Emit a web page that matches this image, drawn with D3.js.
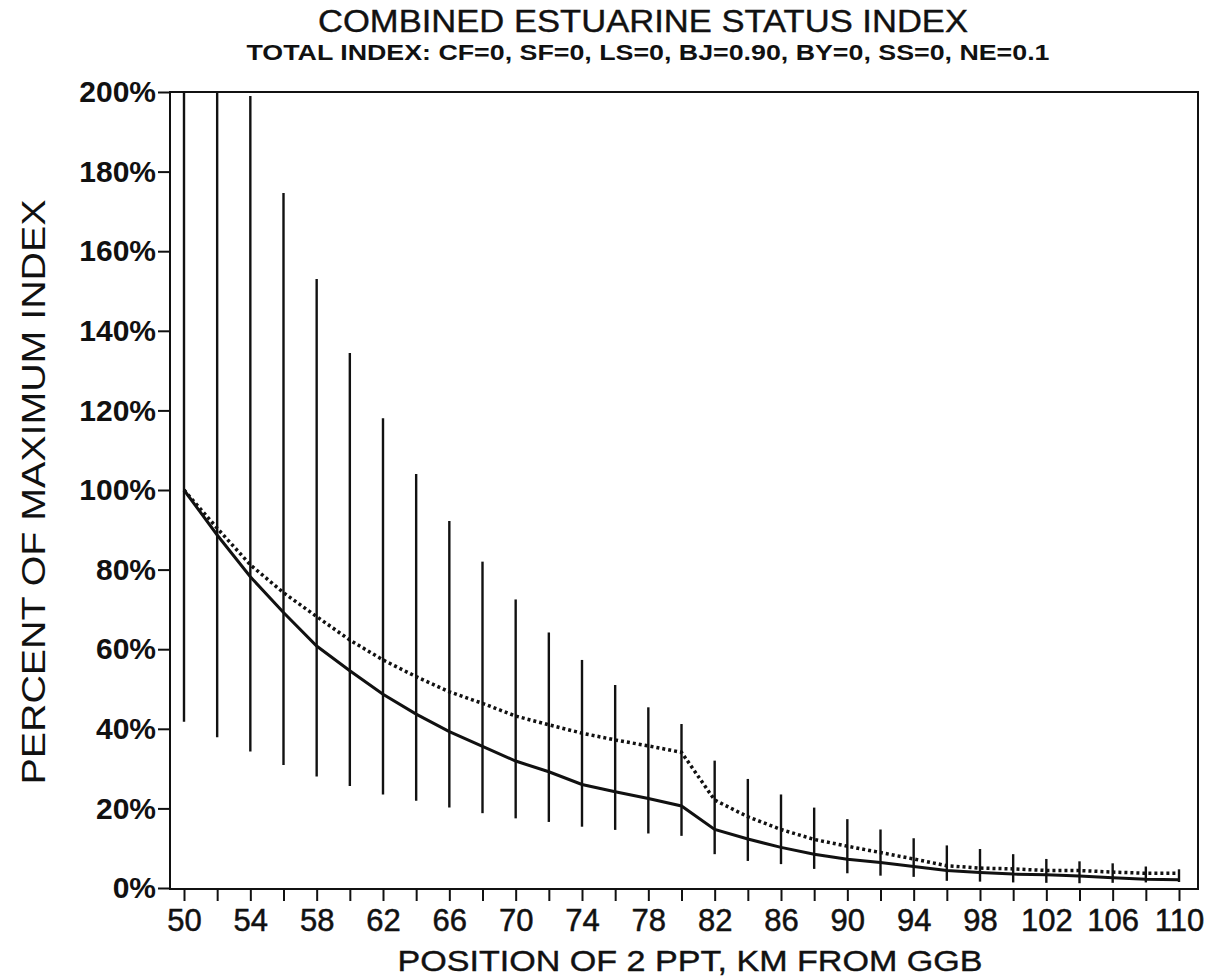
<!DOCTYPE html>
<html>
<head>
<meta charset="utf-8">
<script src="https://cdn.jsdelivr.net/npm/d3@7"></script>
<style>
  body { margin: 0; background: #fff; }
  svg { display: block; }
  text { fill: #111; font-family: "Liberation Sans", Arial, sans-serif; }
</style>
</head>
<body>
<div id="chart"></div>
<script>
const width = 1219;
const height = 980;

// km position of 2 ppt isohaline
const km = [50, 52, 54, 56, 58, 60, 62, 64, 66, 68, 70, 72, 74, 76, 78, 80,
            82, 84, 86, 88, 90, 92, 94, 96, 98, 100, 102, 104, 106, 108, 110];

// percent of maximum index (solid line)
const indexSolid = [100, 88.7, 78.2, 69.2, 60.8, 54.6, 48.7, 43.7, 39.3, 35.6, 31.9, 29.2, 26.0, 24.2, 22.5, 20.6,
                    14.7, 12.3, 10.2, 8.5, 7.2, 6.4, 5.4, 4.4, 3.9, 3.5, 3.3, 3.0, 2.6, 2.2, 2.1];

// dotted line
const indexDotted = [100, 90.4, 81.2, 74.2, 68.2, 62.3, 57.3, 53.1, 49.3, 46.4, 43.2, 41.0, 38.9, 37.2, 35.7, 34.1,
                     22.1, 17.9, 14.7, 12.2, 10.5, 8.9, 7.3, 5.6, 5.0, 4.8, 4.4, 4.4, 4.0, 3.7, 3.7];

// error bar ends (first two run off the top of the chart)
const barUpper = [250, 250, 199, 174.6, 153, 134.4, 118, 104, 92.2, 82, 72.5, 64.2, 57.3, 51, 45.4, 41.2,
                  32, 27.4, 23.5, 20.2, 17.3, 14.7, 12.5, 10.7, 9.8, 8.5, 7.3, 6.7, 6.2, 5.4, 4.7];
const barLower = [41.8, 37.9, 34.3, 30.9, 28.0, 25.6, 23.5, 21.9, 20.2, 18.8, 17.5, 16.6, 15.4, 14.6, 13.7, 13.1,
                  8.5, 6.8, 6.0, 4.8, 3.7, 3.1, 2.8, 1.8, 1.6, 1.4, 1.3, 1.2, 1.3, 1.4, 1.5];

const yTicks = [0, 20, 40, 60, 80, 100, 120, 140, 160, 180, 200];
const xLabels = [50, 54, 58, 62, 66, 70, 74, 78, 82, 86, 90, 94, 98, 102, 106, 110];

const plot = { left: 170, right: 1198, top: 92, bottom: 889 };

const x = d3.scaleLinear().domain([50, 110]).range([184, 1179]);
const y = d3.scaleLinear().domain([0, 200]).range([888, 92]);

const svg = d3.select("#chart")
    .append("svg")
    .attr("width", width)
    .attr("height", height);

svg.append("clipPath").attr("id", "clip")
  .append("rect")
    .attr("x", plot.left).attr("y", plot.top)
    .attr("width", plot.right - plot.left)
    .attr("height", plot.bottom - plot.top);

// titles
svg.append("text")
    .attr("x", 643).attr("y", 32)
    .attr("text-anchor", "middle")
    .attr("font-size", 32)
    .attr("stroke", "#111").attr("stroke-width", 0.4)
    .attr("textLength", 650).attr("lengthAdjust", "spacingAndGlyphs")
    .text("COMBINED ESTUARINE STATUS INDEX");

svg.append("text")
    .attr("x", 648).attr("y", 60)
    .attr("text-anchor", "middle")
    .attr("font-size", 22)
    .attr("font-weight", "bold")
    .attr("textLength", 803).attr("lengthAdjust", "spacingAndGlyphs")
    .text("TOTAL INDEX: CF=0,  SF=0,  LS=0,  BJ=0.90,  BY=0,  SS=0,  NE=0.1");

// frame
svg.append("rect")
    .attr("x", plot.left).attr("y", plot.top)
    .attr("width", plot.right - plot.left)
    .attr("height", plot.bottom - plot.top)
    .attr("fill", "none")
    .attr("stroke", "#111")
    .attr("stroke-width", 2);

// y axis
const yAxis = d3.axisLeft(y)
    .tickValues(yTicks)
    .tickSize(12)
    .tickPadding(2)
    .tickFormat(d => d + "%");

const gy = svg.append("g")
    .attr("transform", `translate(${plot.left},0)`)
    .call(yAxis);
gy.select(".domain").remove();
gy.selectAll(".tick line").attr("stroke", "#111").attr("stroke-width", 2);
gy.selectAll(".tick text")
    .attr("font-size", 30)
    .attr("font-weight", "bold")
    .attr("font-family", "'Liberation Sans', Arial, sans-serif")
    .attr("fill", "#111");

// x axis
const xAxis = d3.axisBottom(x)
    .tickValues(km)
    .tickSize(12)
    .tickPadding(8)
    .tickFormat(d => xLabels.includes(d) ? d : "");

const gx = svg.append("g")
    .attr("transform", `translate(0,${plot.bottom})`)
    .call(xAxis);
gx.select(".domain").remove();
gx.selectAll(".tick line").attr("stroke", "#111").attr("stroke-width", 2);
gx.selectAll(".tick text")
    .attr("font-size", 31)
    .attr("font-family", "'Liberation Sans', Arial, sans-serif")
    .attr("stroke", "#111").attr("stroke-width", 0.5)
    .attr("fill", "#111");

// axis titles
svg.append("text")
    .attr("x", 690).attr("y", 971)
    .attr("text-anchor", "middle")
    .attr("font-size", 29)
    .attr("stroke", "#111").attr("stroke-width", 0.4)
    .attr("textLength", 585).attr("lengthAdjust", "spacingAndGlyphs")
    .text("POSITION OF 2 PPT, KM FROM GGB");

svg.append("text")
    .attr("transform", "translate(45,492) rotate(-90)")
    .attr("text-anchor", "middle")
    .attr("font-size", 33)
    .attr("textLength", 585).attr("lengthAdjust", "spacingAndGlyphs")
    .text("PERCENT OF MAXIMUM INDEX");

const rows = km.map((k, i) => ({
    km: k,
    solid: indexSolid[i],
    dotted: indexDotted[i],
    hi: barUpper[i],
    lo: barLower[i]
}));

const marks = svg.append("g").attr("clip-path", "url(#clip)");

// error bars
marks.selectAll("line.bar")
    .data(rows)
    .enter()
    .append("line")
    .attr("class", "bar")
    .attr("x1", d => x(d.km)).attr("x2", d => x(d.km))
    .attr("y1", d => y(d.hi)).attr("y2", d => y(d.lo))
    .attr("stroke", "#111")
    .attr("stroke-width", 2.4);

const line = key => d3.line()
    .x(d => x(d.km))
    .y(d => y(d[key]));

marks.append("path")
    .datum(rows)
    .attr("d", line("dotted"))
    .attr("fill", "none")
    .attr("stroke", "#111")
    .attr("stroke-width", 3.5)
    .attr("stroke-dasharray", "3,3");

marks.append("path")
    .datum(rows)
    .attr("d", line("solid"))
    .attr("fill", "none")
    .attr("stroke", "#111")
    .attr("stroke-width", 3);
</script>
</body>
</html>
